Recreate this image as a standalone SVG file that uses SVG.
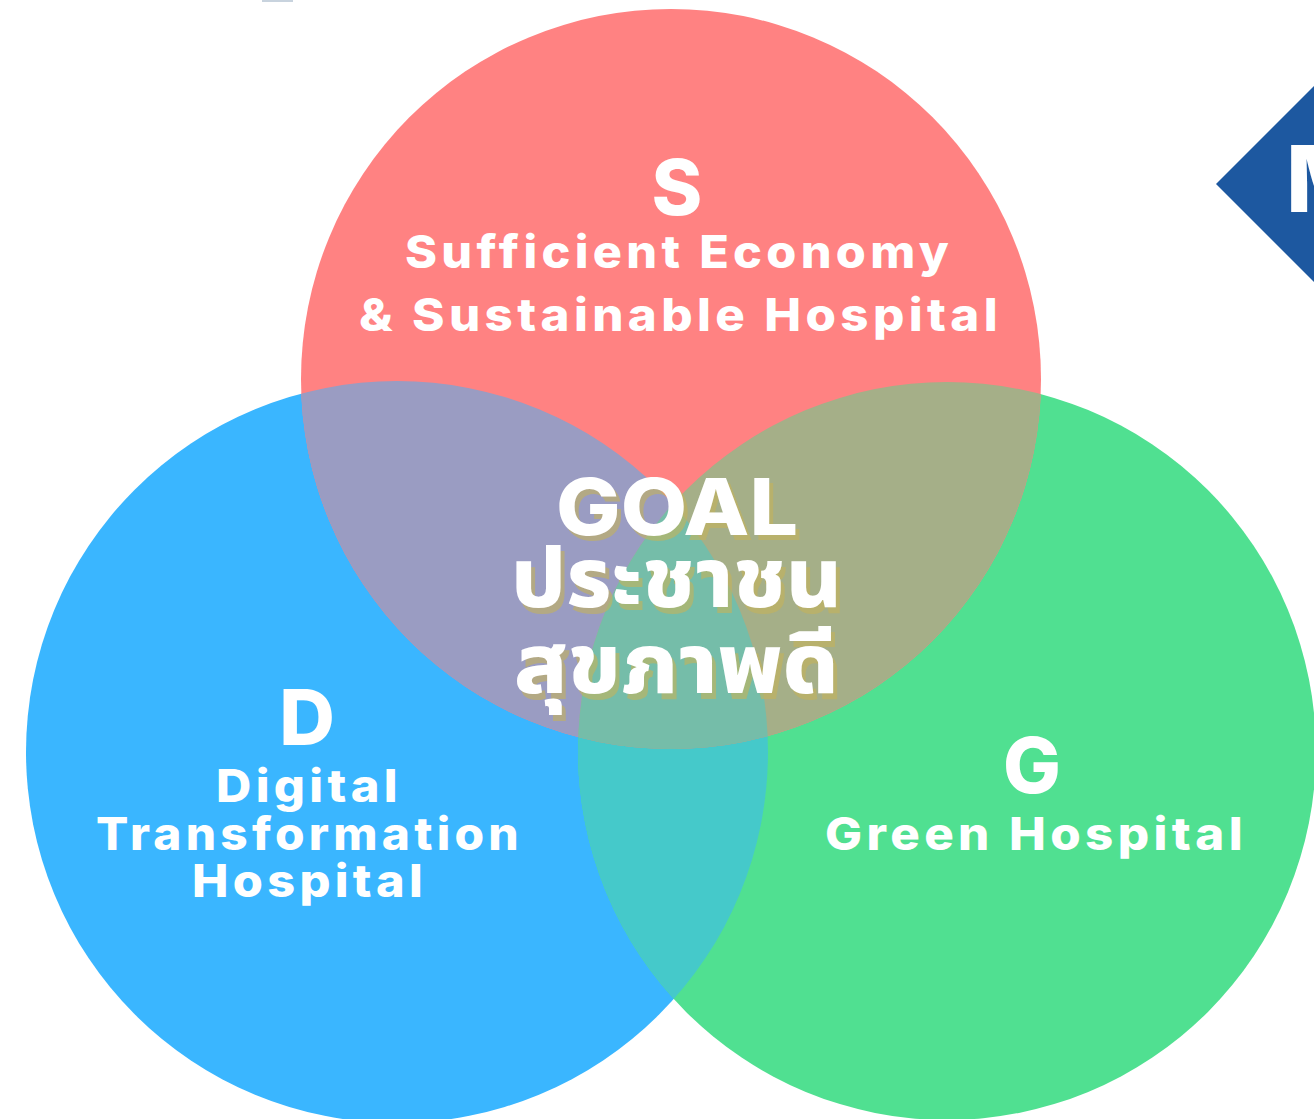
<svg xmlns="http://www.w3.org/2000/svg" width="1314" height="1119" viewBox="0 0 1314 1119">
<defs>
<style>
.lbl{font-family:Inter,"Liberation Sans",Arial,sans-serif;font-weight:800;fill:#ffffff;}
.big{font-size:77px;text-anchor:middle;}
.sub{font-size:45px;letter-spacing:4px;}
.goal{font-family:Inter,"Liberation Sans",Arial,sans-serif;font-weight:800;font-size:79px;}
.thai{font-family:"Noto Sans Thai","Noto Sans","DejaVu Sans",sans-serif;font-weight:800;font-size:84px;}
.shadow{fill:#C4B25A;fill-opacity:0.6;}
.white{fill:#ffffff;}
</style>
<clipPath id="clipBlue"><circle cx="397" cy="752" r="371"/></clipPath>
<clipPath id="clipGreen"><circle cx="947" cy="751" r="369"/></clipPath>
</defs>
<rect width="1314" height="1119" fill="#ffffff"/>
<rect x="262" y="0" width="31" height="2" fill="#C8D3DE"/>
<g id="badge-m">
<polygon points="1216,184 1315,85 1414,184 1315,283" fill="#1D58A0"/>
<text x="1286" y="212" font-family="Inter,Liberation Sans,Arial,sans-serif" font-weight="800" font-size="92" fill="#ffffff">M</text>
</g>
<g id="circle-d"><circle cx="397" cy="752" r="371" fill="#3AB6FF"/></g>
<g id="circle-g"><circle cx="947" cy="751" r="369" fill="#50E091"/></g>
<g id="circle-s"><circle cx="671" cy="379" r="370" fill="#FF8282"/></g>
<g id="overlaps">
<circle cx="947" cy="751" r="369" fill="#45C9CA" clip-path="url(#clipBlue)"/>
<circle cx="671" cy="379" r="370" fill="#9A9CC2" clip-path="url(#clipBlue)"/>
<circle cx="671" cy="379" r="370" fill="#A5AF88" clip-path="url(#clipGreen)"/>
<g clip-path="url(#clipBlue)"><circle cx="671" cy="379" r="370" fill="#75BDA9" clip-path="url(#clipGreen)"/></g>
</g>
<g id="label-s">
<text class="lbl big" x="677" y="215">S</text>
<text class="lbl sub" x="405" y="268" textLength="548" lengthAdjust="spacingAndGlyphs">Sufficient Economy</text>
<text class="lbl sub" x="359" y="331" textLength="643" lengthAdjust="spacingAndGlyphs">&amp; Sustainable Hospital</text>
</g>
<g id="label-d">
<text class="lbl big" x="307" y="745">D</text>
<text class="lbl sub" x="216" y="802" textLength="186" lengthAdjust="spacingAndGlyphs">Digital</text>
<text class="lbl sub" x="96" y="850" textLength="427" lengthAdjust="spacingAndGlyphs">Transformation</text>
<text class="lbl sub" x="192" y="897" textLength="235" lengthAdjust="spacingAndGlyphs">Hospital</text>
</g>
<g id="label-g">
<text class="lbl big" x="1032" y="793">G</text>
<text class="lbl sub" x="825" y="850" textLength="422" lengthAdjust="spacingAndGlyphs">Green Hospital</text>
</g>
<g id="goal">
<text class="goal shadow" x="560" y="540" textLength="242" lengthAdjust="spacingAndGlyphs">GOAL</text>
<text class="goal white" x="556" y="535" textLength="242" lengthAdjust="spacingAndGlyphs">GOAL</text>
<text class="thai shadow" x="515" y="613" textLength="331" lengthAdjust="spacingAndGlyphs">ประชาชน</text>
<text class="thai white" x="511" y="607" textLength="331" lengthAdjust="spacingAndGlyphs">ประชาชน</text>
<text class="thai shadow" x="518" y="699" textLength="325" lengthAdjust="spacingAndGlyphs">สุขภาพดี</text>
<text class="thai white" x="514" y="693" textLength="325" lengthAdjust="spacingAndGlyphs">สุขภาพดี</text>
</g>
</svg>
